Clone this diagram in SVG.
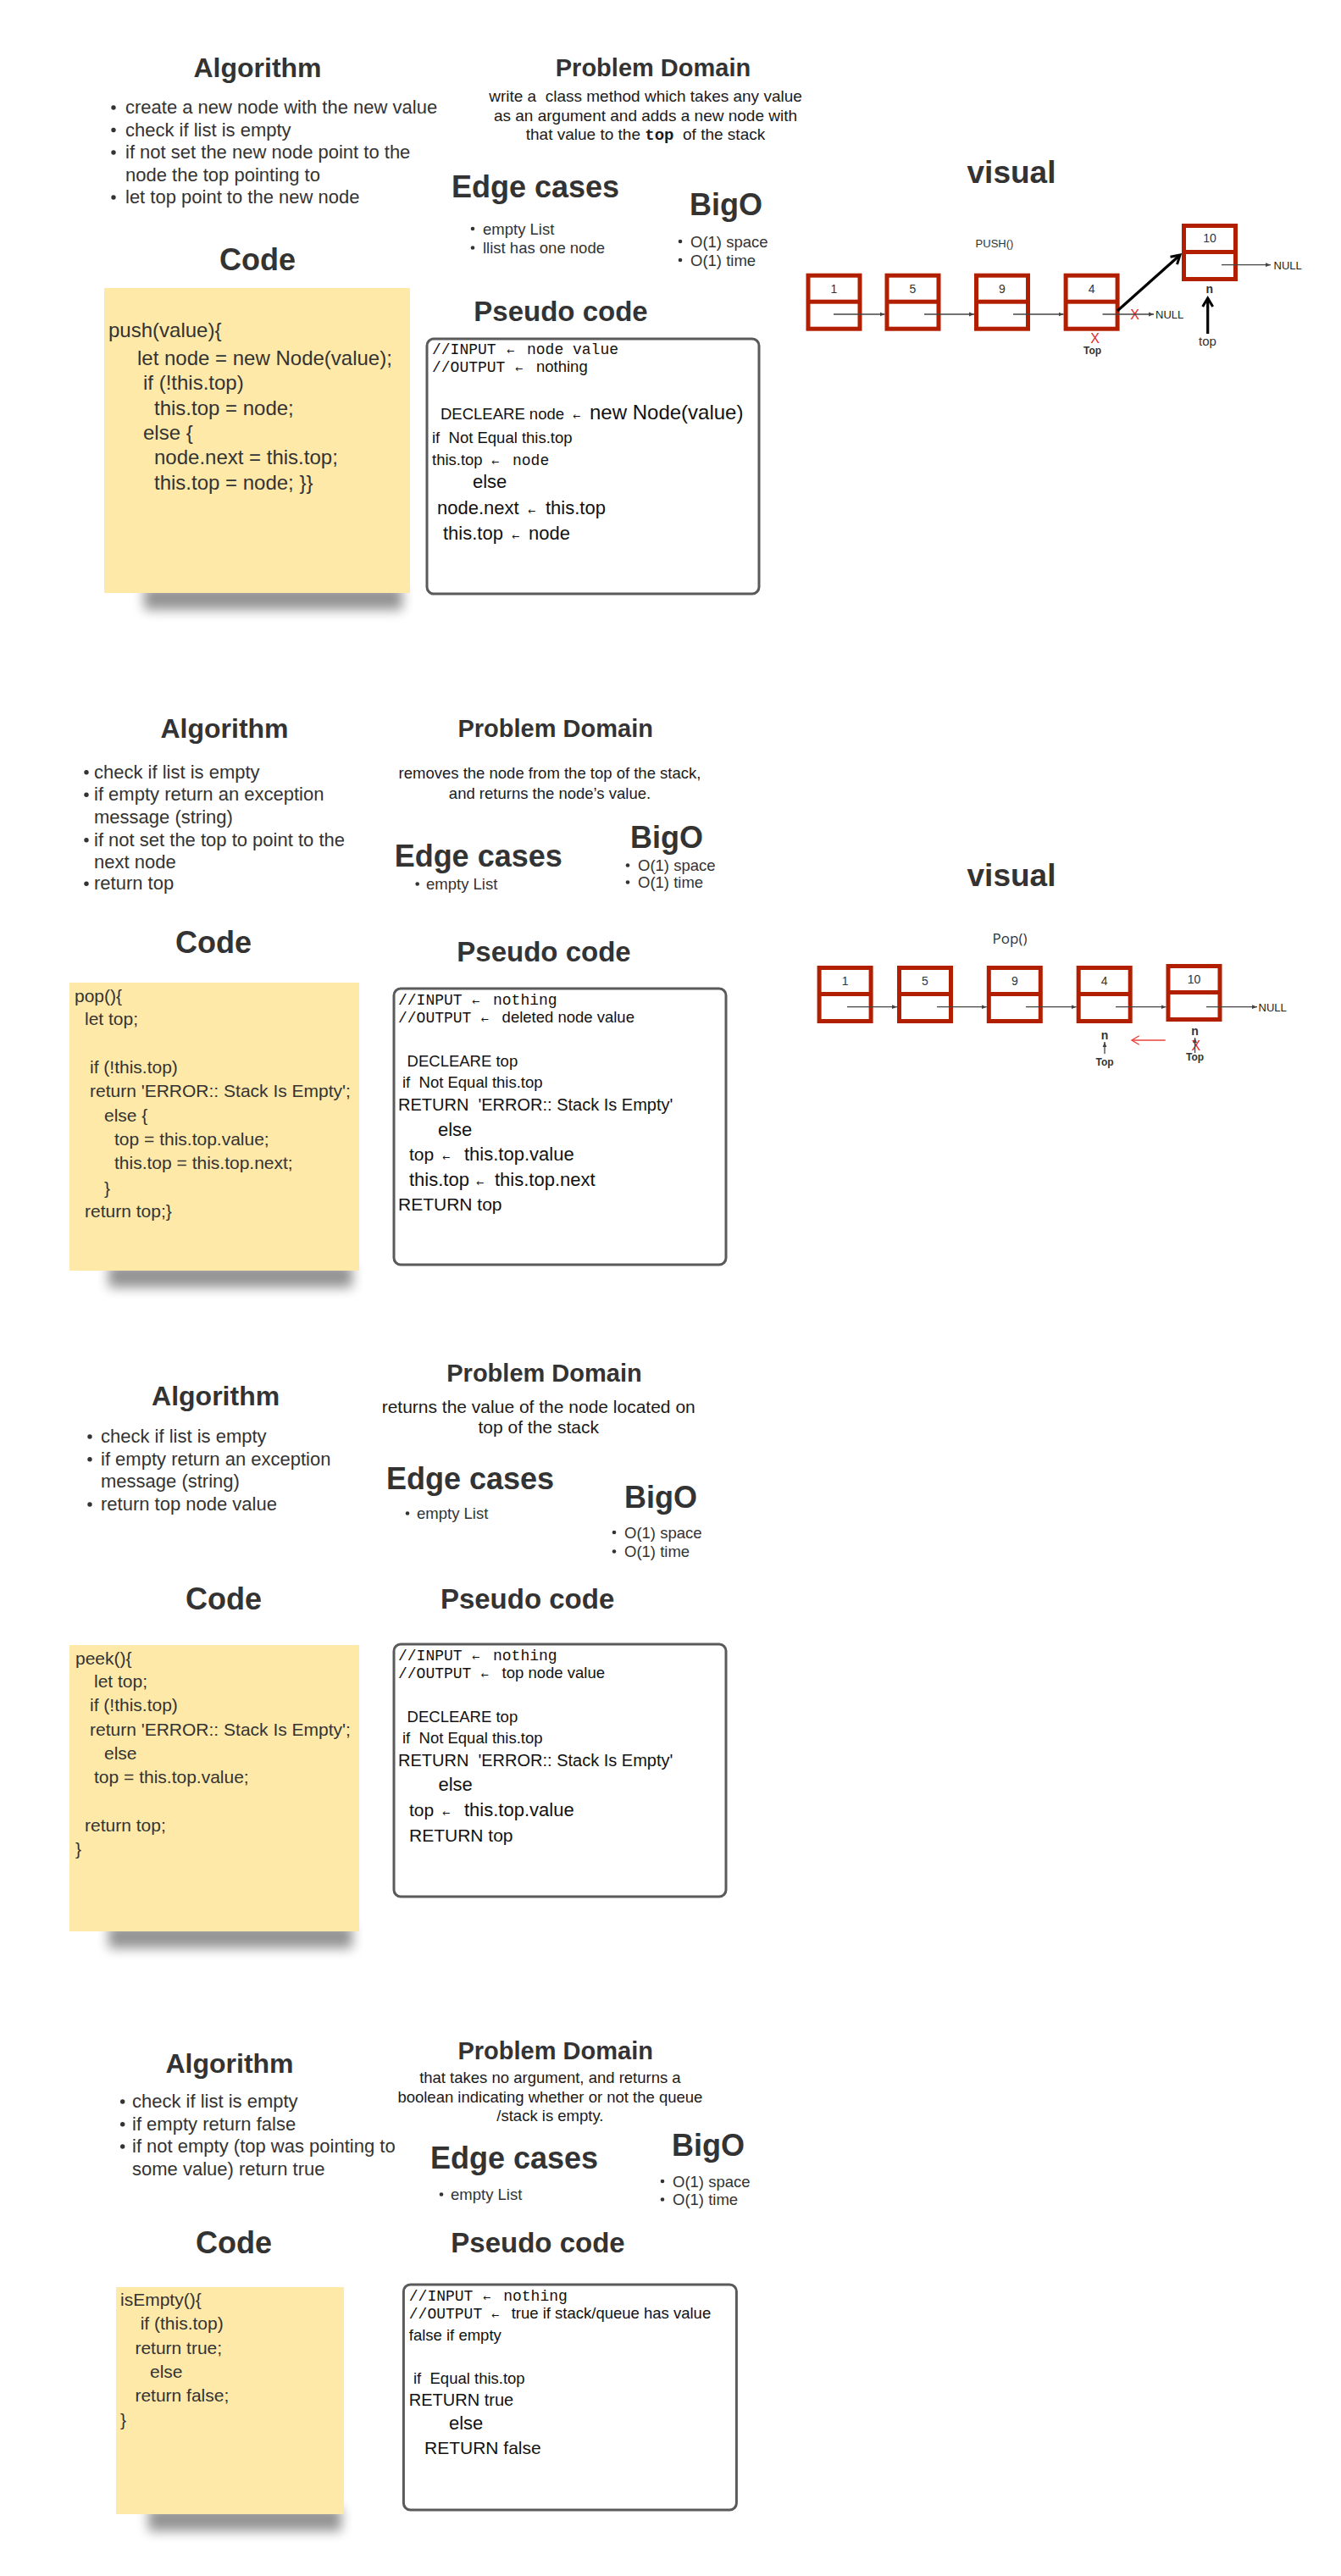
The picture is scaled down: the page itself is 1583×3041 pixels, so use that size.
<svg xmlns="http://www.w3.org/2000/svg" width="1583" height="3041" viewBox="0 0 1583 3041">
<style>
text{white-space:pre;font-family:"Liberation Sans",Arial,sans-serif;fill:#333}
.h{font-weight:bold;text-anchor:middle;fill:#333}
.mid{text-anchor:middle}
.d{fill:#1a1a1a}
.p{fill:#111}
.m{font-family:"Liberation Mono","DejaVu Sans Mono",monospace}
.ar{font-family:"DejaVu Sans",sans-serif;font-size:11px}
.bu{fill:#333}
.sticky{fill:#ffe9a8}
.shadow{fill:#000;opacity:.42}
.box{fill:#fff;stroke:#5a5a5a;stroke-width:3}
.thin{stroke:#444;stroke-width:1.3;fill:none}
.thick{stroke:#000;stroke-width:3.2;fill:none}
.red{stroke:#e8403a;stroke-width:1.6;fill:none}
.lbl{font-size:14px;text-anchor:middle;fill:#333}
.null{font-size:13px;fill:#222}
.xr{fill:#e8252a;font-size:16px;text-anchor:middle}
.sm{font-weight:bold;text-anchor:middle;fill:#333}
</style>
<defs>
<filter id="blur" x="-20%" y="-100%" width="140%" height="300%"><feGaussianBlur stdDeviation="7"/></filter>
<g id="nodeShape"><rect width="66" height="68" fill="#b21f00"/><rect x="5" y="5" width="56" height="26" fill="#fff"/><rect x="5" y="36" width="56" height="27" fill="#fff"/></g>
<marker id="ah" viewBox="0 0 10 10" refX="10" refY="5" markerWidth="6" markerHeight="6" orient="auto" markerUnits="userSpaceOnUse"><path d="M0,1 L10,5 L0,9 z" fill="#444"/></marker>
<marker id="bk" viewBox="0 0 16 16" refX="13" refY="8" markerWidth="16" markerHeight="16" orient="auto" markerUnits="userSpaceOnUse"><path d="M3,2 L13,8 L3,14" stroke="#000" stroke-width="3" fill="none"/></marker>
<marker id="rd" viewBox="0 0 16 16" refX="13" refY="8" markerWidth="14" markerHeight="14" orient="auto" markerUnits="userSpaceOnUse"><path d="M3,2 L13,8 L3,14" stroke="#e8403a" stroke-width="1.6" fill="none"/></marker>
</defs>
<rect width="1583" height="3041" fill="#fff"/>

<!-- ===== Section 1: push ===== -->
<g id="push-algorithm">
<text class="h" x="304" y="91" font-size="32">Algorithm</text>
<g font-size="22">
<circle class="bu" cx="134" cy="127" r="2.7"/><text x="148" y="134">create a new node with the new value</text>
<circle class="bu" cx="134" cy="153.5" r="2.7"/><text x="148" y="160.5">check if list is empty</text>
<circle class="bu" cx="134" cy="180" r="2.7"/><text x="148" y="187">if not set the new node point to the</text>
<text x="148" y="213.5">node the top pointing to</text>
<circle class="bu" cx="134" cy="233" r="2.7"/><text x="148" y="240">let top point to the new node</text>
</g>
</g>
<g id="push-problem">
<text class="h" x="771" y="90" font-size="29">Problem Domain</text>
<g font-size="19" class="mid">
<text class="mid d" x="762" y="120">write a  class method which takes any value</text>
<text class="mid d" x="762" y="142.5">as an argument and adds a new node with</text>
<text class="mid d" x="762" y="164.5">that value to the <tspan class="m" font-weight="bold">top</tspan>  of the stack</text>
</g>
</g>
<g id="push-edge">
<text class="h" x="632" y="233" font-size="36">Edge cases</text>
<g font-size="18.5">
<circle class="bu" cx="558" cy="270" r="2.3"/><text x="570" y="276.5">empty List</text>
<circle class="bu" cx="558" cy="292.5" r="2.3"/><text x="570" y="299">llist has one node</text>
</g>
</g>
<g id="push-bigo">
<text class="h" x="857" y="254" font-size="36">BigO</text>
<g font-size="18.5">
<circle class="bu" cx="803" cy="285" r="2.3"/><text x="815" y="291.5">O(1) space</text>
<circle class="bu" cx="803" cy="307" r="2.3"/><text x="815" y="313.5">O(1) time</text>
</g>
</g>
<g id="push-code">
<text class="h" x="304" y="319" font-size="36">Code</text>
<rect class="shadow" x="170" y="692" width="305" height="28" filter="url(#blur)"/>
<rect class="sticky" x="123" y="340" width="361" height="360"/>
<g font-size="24">
<text x="128" y="398">push(value){</text>
<text x="162" y="431">let node = new Node(value);</text>
<text x="169" y="460">if (!this.top)</text>
<text x="182" y="490">this.top = node;</text>
<text x="169" y="519">else {</text>
<text x="182" y="548">node.next = this.top;</text>
<text x="182" y="577.5">this.top = node; }}</text>
</g>
</g>
<g id="push-pseudo">
<text class="h" x="662" y="378.5" font-size="33">Pseudo code</text>
<rect class="box" x="504" y="400" width="392" height="301" rx="8"/>
<text class="p m" x="510" y="418" font-size="18">//INPUT<tspan class="ar" x="598">←</tspan><tspan x="622">node value</tspan></text>
<text class="p" x="510" y="439" font-size="18.5"><tspan class="m" font-size="18">//OUTPUT</tspan><tspan class="ar" x="608">←</tspan><tspan x="633">nothing</tspan></text>
<text class="p" x="520" y="495" font-size="18.5">DECLEARE node<tspan class="ar" x="676">←</tspan><tspan x="696" font-size="24">new Node(value)</tspan></text>
<text class="p" x="510" y="523" font-size="18.5">if  Not Equal this.top</text>
<text class="p" x="510" y="549" font-size="18.5">this.top<tspan class="ar" x="580">←</tspan><tspan class="m" x="605" font-size="18">node</tspan></text>
<text class="p" x="558" y="576" font-size="22">else</text>
<text class="p" x="516" y="606.5" font-size="22">node.next<tspan class="ar" x="623">←</tspan><tspan x="644">this.top</tspan></text>
<text class="p" x="523" y="636.5" font-size="22">this.top<tspan class="ar" x="604">←</tspan><tspan x="624">node</tspan></text>
</g>
<g id="push-visual">
<text class="h" x="1194" y="216" font-size="37">visual</text>
<text class="mid" x="1174" y="292" font-size="13">PUSH()</text>
<g id="push-node-1"><use href="#nodeShape" x="951.5" y="322.7"/><text class="lbl" x="984.5" y="346">1</text></g>
<g id="push-node-5"><use href="#nodeShape" x="1044.5" y="322.7"/><text class="lbl" x="1077.5" y="346">5</text></g>
<g id="push-node-9"><use href="#nodeShape" x="1150" y="322.7"/><text class="lbl" x="1183" y="346">9</text></g>
<g id="push-node-4"><use href="#nodeShape" x="1255.6" y="322.7"/><text class="lbl" x="1288.6" y="346">4</text></g>
<g id="push-node-10"><use href="#nodeShape" x="1395" y="264"/><text class="lbl" x="1428" y="286">10</text></g>
<text class="null" x="1364" y="376">NULL</text>
<text class="xr" x="1339.6" y="377">X</text>
<text class="null" x="1503.5" y="317.5">NULL</text>
<text class="sm" x="1427.7" y="345.5" font-size="14">n</text>
<text class="mid" x="1425.5" y="408" font-size="15">top</text>
<text class="xr" x="1292.5" y="405" font-size="15">X</text>
<text class="sm" x="1289.6" y="418" font-size="12">Top</text>
</g>

<!-- ===== Section 2: pop ===== -->
<g id="pop-algorithm">
<text class="h" x="265" y="871" font-size="32">Algorithm</text>
<g font-size="22">
<circle class="bu" cx="102" cy="911.7" r="2.7"/><text x="111" y="918.7">check if list is empty</text>
<circle class="bu" cx="102" cy="938.3" r="2.7"/><text x="111" y="945.3">if empty return an exception</text>
<text x="111" y="972">message (string)</text>
<circle class="bu" cx="102" cy="991.7" r="2.7"/><text x="111" y="998.7">if not set the top to point to the</text>
<text x="111" y="1025.3">next node</text>
<circle class="bu" cx="102" cy="1043.3" r="2.7"/><text x="111" y="1050.3">return top</text>
</g>
</g>
<g id="pop-problem">
<text class="h" x="655.7" y="869.5" font-size="29">Problem Domain</text>
<text class="mid d" x="649" y="919.3" font-size="18.5">removes the node from the top of the stack,</text>
<text class="mid d" x="649" y="942.7" font-size="18.5">and returns the node’s value.</text>
</g>
<g id="pop-edge">
<text class="h" x="564.7" y="1023" font-size="36">Edge cases</text>
<circle class="bu" cx="492.7" cy="1043.5" r="2.3"/><text x="503" y="1050" font-size="18.5">empty List</text>
</g>
<g id="pop-bigo">
<text class="h" x="787" y="1001" font-size="36">BigO</text>
<g font-size="18.5">
<circle class="bu" cx="741" cy="1021.5" r="2.3"/><text x="753" y="1028">O(1) space</text>
<circle class="bu" cx="741" cy="1041.5" r="2.3"/><text x="753" y="1048">O(1) time</text>
</g>
</g>
<g id="pop-code">
<text class="h" x="252" y="1124.5" font-size="36">Code</text>
<rect class="shadow" x="128" y="1492" width="288" height="28" filter="url(#blur)"/>
<rect class="sticky" x="82" y="1160" width="342" height="340"/>
<g font-size="21">
<text x="88" y="1183">pop(){</text>
<text x="100" y="1210">let top;</text>
<text x="106" y="1267">if (!this.top)</text>
<text x="106" y="1295">return 'ERROR:: Stack Is Empty';</text>
<text x="123" y="1323.5">else {</text>
<text x="135" y="1352">top = this.top.value;</text>
<text x="135" y="1380">this.top = this.top.next;</text>
<text x="123" y="1409.5">}</text>
<text x="100" y="1437">return top;}</text>
</g>
</g>
<g id="pop-pseudo">
<text class="h" x="642" y="1135" font-size="33">Pseudo code</text>
<rect class="box" x="465" y="1167" width="392" height="326" rx="8"/>
<text class="p m" x="470" y="1186" font-size="18">//INPUT<tspan class="ar" x="557">←</tspan><tspan x="582">nothing</tspan></text>
<text class="p" x="470" y="1207" font-size="18.5"><tspan class="m" font-size="18">//OUTPUT</tspan><tspan class="ar" x="567.5">←</tspan><tspan x="592.6">deleted node value</tspan></text>
<text class="p" x="480.6" y="1259" font-size="18.5">DECLEARE top</text>
<text class="p" x="475" y="1284" font-size="18.5">if  Not Equal this.top</text>
<text class="p" x="470" y="1311" font-size="20">RETURN  'ERROR:: Stack Is Empty'</text>
<text class="p" x="517" y="1340.5" font-size="22">else</text>
<text class="p" x="483" y="1370" font-size="21">top<tspan class="ar" x="522">←</tspan><tspan x="548" font-size="22">this.top.value</tspan></text>
<text class="p" x="483" y="1400" font-size="22">this.top<tspan class="ar" x="562">←</tspan><tspan x="584">this.top.next</tspan></text>
<text class="p" x="470" y="1429" font-size="21">RETURN top</text>
</g>
<g id="pop-visual">
<text class="h" x="1194" y="1046" font-size="37">visual</text>
<text class="mid" x="1192" y="1114" font-size="17" style="font-family:'Open Sans',sans-serif">Pop()</text>
<g id="pop-node-1"><use href="#nodeShape" x="964.6" y="1140"/><text class="lbl" x="997.6" y="1163">1</text></g>
<g id="pop-node-5"><use href="#nodeShape" x="1059" y="1140"/><text class="lbl" x="1092" y="1163">5</text></g>
<g id="pop-node-9"><use href="#nodeShape" x="1164.8" y="1140"/><text class="lbl" x="1197.8" y="1163">9</text></g>
<g id="pop-node-4"><use href="#nodeShape" x="1270.7" y="1140"/><text class="lbl" x="1303.7" y="1163">4</text></g>
<g id="pop-node-10"><use href="#nodeShape" x="1376.5" y="1138"/><text class="lbl" x="1409.5" y="1161">10</text></g>
<text class="null" x="1485.6" y="1194">NULL</text>
<text class="sm" x="1304" y="1227" font-size="14">n</text>
<text class="sm" x="1304" y="1258" font-size="12">Top</text>
<text class="sm" x="1410.6" y="1221.5" font-size="14">n</text>
<text class="xr" x="1411.8" y="1240" font-size="13">X</text>
<text class="sm" x="1410.6" y="1252" font-size="12">Top</text>
</g>

<!-- ===== Section 3: peek ===== -->
<g id="peek-algorithm">
<text class="h" x="254.6" y="1658.5" font-size="32">Algorithm</text>
<g font-size="22">
<circle class="bu" cx="106" cy="1696" r="2.7"/><text x="119" y="1703">check if list is empty</text>
<circle class="bu" cx="106" cy="1722.7" r="2.7"/><text x="119" y="1729.7">if empty return an exception</text>
<text x="119" y="1756">message (string)</text>
<circle class="bu" cx="106" cy="1776" r="2.7"/><text x="119" y="1783">return top node value</text>
</g>
</g>
<g id="peek-problem">
<text class="h" x="642.5" y="1630.5" font-size="29">Problem Domain</text>
<text class="mid d" x="635.7" y="1667.5" font-size="21">returns the value of the node located on</text>
<text class="mid d" x="635.7" y="1692" font-size="21">top of the stack</text>
</g>
<g id="peek-edge">
<text class="h" x="555" y="1758" font-size="36">Edge cases</text>
<circle class="bu" cx="481" cy="1786.5" r="2.3"/><text x="492" y="1793" font-size="18.5">empty List</text>
</g>
<g id="peek-bigo">
<text class="h" x="780" y="1779.5" font-size="36">BigO</text>
<g font-size="18.5">
<circle class="bu" cx="725" cy="1809" r="2.3"/><text x="737" y="1815.5">O(1) space</text>
<circle class="bu" cx="725" cy="1831.5" r="2.3"/><text x="737" y="1838">O(1) time</text>
</g>
</g>
<g id="peek-code">
<text class="h" x="264" y="1899.5" font-size="36">Code</text>
<rect class="shadow" x="128" y="2272" width="288" height="28" filter="url(#blur)"/>
<rect class="sticky" x="82" y="1942" width="342" height="338"/>
<g font-size="21">
<text x="89" y="1965">peek(){</text>
<text x="111" y="1992">let top;</text>
<text x="106" y="2020">if (!this.top)</text>
<text x="106" y="2048.7">return 'ERROR:: Stack Is Empty';</text>
<text x="123" y="2077">else</text>
<text x="111" y="2105">top = this.top.value;</text>
<text x="100" y="2162">return top;</text>
<text x="89" y="2190">}</text>
</g>
</g>
<g id="peek-pseudo">
<text class="h" x="622.6" y="1898.5" font-size="33">Pseudo code</text>
<rect class="box" x="465" y="1941" width="392" height="298" rx="8"/>
<text class="p m" x="470" y="1960" font-size="18">//INPUT<tspan class="ar" x="557">←</tspan><tspan x="582">nothing</tspan></text>
<text class="p" x="470" y="1981" font-size="18.5"><tspan class="m" font-size="18">//OUTPUT</tspan><tspan class="ar" x="567.5">←</tspan><tspan x="592.6">top node value</tspan></text>
<text class="p" x="480.6" y="2032.5" font-size="18.5">DECLEARE top</text>
<text class="p" x="475" y="2057.5" font-size="18.5">if  Not Equal this.top</text>
<text class="p" x="470" y="2085" font-size="20">RETURN  'ERROR:: Stack Is Empty'</text>
<text class="p" x="517.4" y="2114" font-size="22">else</text>
<text class="p" x="483" y="2144" font-size="21">top<tspan class="ar" x="522">←</tspan><tspan x="548" font-size="22">this.top.value</tspan></text>
<text class="p" x="483" y="2174" font-size="21">RETURN top</text>
</g>

<!-- ===== Section 4: isEmpty ===== -->
<g id="isempty-algorithm">
<text class="h" x="271" y="2446.5" font-size="32">Algorithm</text>
<g font-size="22">
<circle class="bu" cx="144.7" cy="2481" r="2.7"/><text x="156" y="2488">check if list is empty</text>
<circle class="bu" cx="144.7" cy="2507.7" r="2.7"/><text x="156" y="2514.7">if empty return false</text>
<circle class="bu" cx="144.7" cy="2534" r="2.7"/><text x="156" y="2541">if not empty (top was pointing to</text>
<text x="156" y="2567.7">some value) return true</text>
</g>
</g>
<g id="isempty-problem">
<text class="h" x="655.7" y="2430.5" font-size="29">Problem Domain</text>
<g font-size="18.5">
<text class="mid d" x="649.4" y="2459">that takes no argument, and returns a</text>
<text class="mid d" x="649.4" y="2482">boolean indicating whether or not the queue</text>
<text class="mid d" x="649.4" y="2504">/stack is empty.</text>
</g>
</g>
<g id="isempty-edge">
<text class="h" x="607" y="2559.5" font-size="36">Edge cases</text>
<circle class="bu" cx="521" cy="2590.5" r="2.3"/><text x="532" y="2597" font-size="18.5">empty List</text>
</g>
<g id="isempty-bigo">
<text class="h" x="836" y="2544.5" font-size="36">BigO</text>
<g font-size="18.5">
<circle class="bu" cx="782" cy="2575" r="2.3"/><text x="794" y="2581.5">O(1) space</text>
<circle class="bu" cx="782" cy="2596.5" r="2.3"/><text x="794" y="2603">O(1) time</text>
</g>
</g>
<g id="isempty-code">
<text class="h" x="276" y="2659.5" font-size="36">Code</text>
<rect class="shadow" x="175" y="2960" width="228" height="28" filter="url(#blur)"/>
<rect class="sticky" x="137" y="2700" width="269" height="268"/>
<g font-size="21">
<text x="142" y="2722">isEmpty(){</text>
<text x="165.7" y="2750">if (this.top)</text>
<text x="159.4" y="2778.7">return true;</text>
<text x="177" y="2807">else</text>
<text x="159.4" y="2835">return false;</text>
<text x="142" y="2863.7">}</text>
</g>
</g>
<g id="isempty-pseudo">
<text class="h" x="635" y="2658.5" font-size="33">Pseudo code</text>
<rect class="box" x="476.4" y="2697" width="393" height="266" rx="8"/>
<text class="p m" x="482.8" y="2716" font-size="18">//INPUT<tspan class="ar" x="570">←</tspan><tspan x="594.2">nothing</tspan></text>
<text class="p" x="482.8" y="2737" font-size="18.5"><tspan class="m" font-size="18">//OUTPUT</tspan><tspan class="ar" x="580">←</tspan><tspan x="603.7">true if stack/queue has value</tspan></text>
<text class="p" x="482.8" y="2763" font-size="18.5">false if empty</text>
<text class="p" x="488" y="2813.5" font-size="18.5">if  Equal this.top</text>
<text class="p" x="482.8" y="2839.5" font-size="20">RETURN true</text>
<text class="p" x="530" y="2867.5" font-size="22">else</text>
<text class="p" x="501" y="2897" font-size="21">RETURN false</text>
</g>

<!-- ===== Connectors ===== -->
<g id="connectors">
<line class="thin" x1="984" y1="371" x2="1044.5" y2="371" marker-end="url(#ah)"/>
<line class="thin" x1="1091" y1="371" x2="1150" y2="371" marker-end="url(#ah)"/>
<line class="thin" x1="1196" y1="371" x2="1255.6" y2="371" marker-end="url(#ah)"/>
<line class="thin" x1="1301.5" y1="371" x2="1362" y2="371" marker-end="url(#ah)"/>
<line class="thin" x1="1442" y1="312.7" x2="1500" y2="312.7" marker-end="url(#ah)"/>
<line class="thick" x1="1319" y1="367" x2="1393" y2="301" marker-end="url(#bk)"/>
<line class="thick" x1="1425.7" y1="394" x2="1425.7" y2="352" marker-end="url(#bk)"/>
<line class="thin" x1="1000" y1="1188.7" x2="1059" y2="1188.7" marker-end="url(#ah)"/>
<line class="thin" x1="1106" y1="1188.7" x2="1164.8" y2="1188.7" marker-end="url(#ah)"/>
<line class="thin" x1="1211" y1="1188.7" x2="1270.7" y2="1188.7" marker-end="url(#ah)"/>
<line class="thin" x1="1317" y1="1188.7" x2="1376.5" y2="1188.7" marker-end="url(#ah)"/>
<line class="thin" x1="1424" y1="1188.7" x2="1484" y2="1188.7" marker-end="url(#ah)"/>
<line class="thin" x1="1304" y1="1244" x2="1304" y2="1230" marker-end="url(#ah)"/>
<line class="thin" x1="1410.6" y1="1243" x2="1410.6" y2="1225" marker-end="url(#ah)"/>
<line class="red" x1="1375.7" y1="1228" x2="1336" y2="1228" marker-end="url(#rd)"/>
</g>
</svg>
